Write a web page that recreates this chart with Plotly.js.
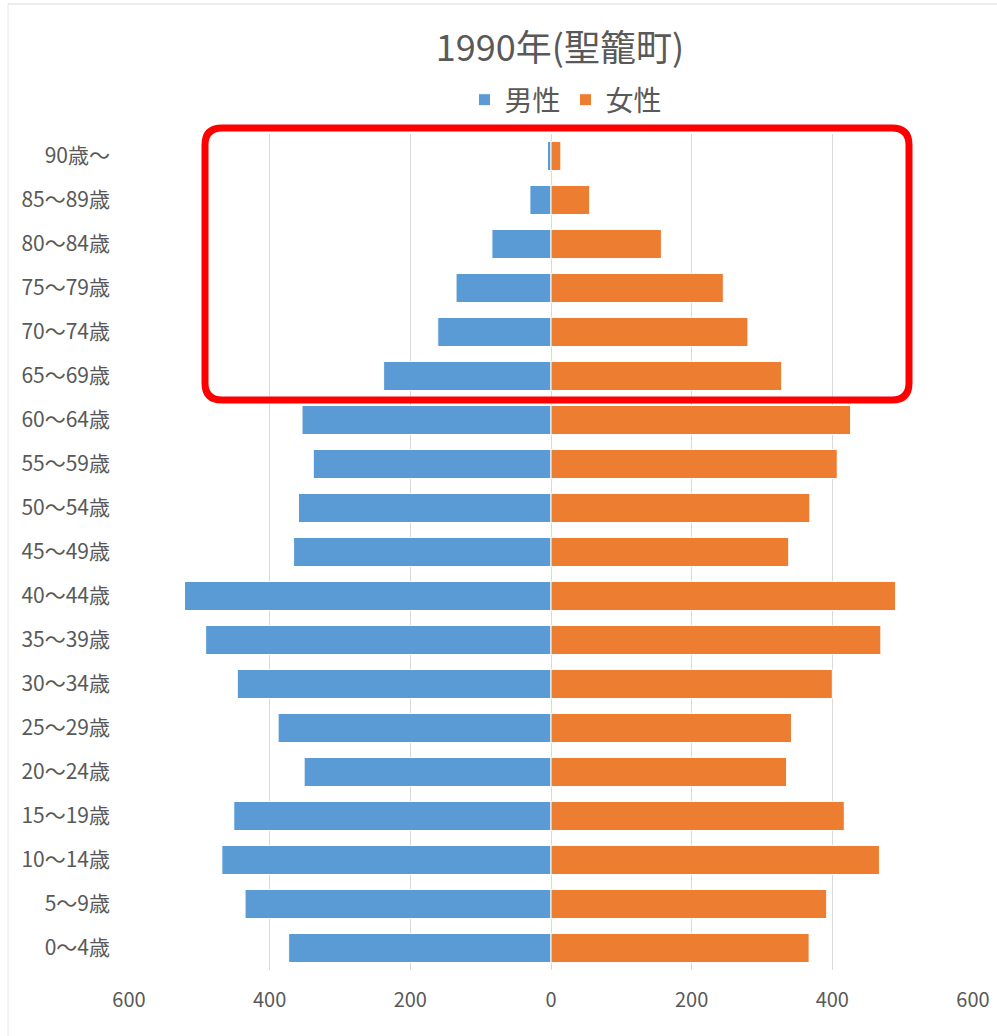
<!DOCTYPE html>
<html>
<head>
<meta charset="utf-8">
<script src="https://cdn.plot.ly/plotly-3.0.1.min.js"></script>
<style>
  html, body { margin: 0; padding: 0; background: #ffffff; }
  #chart { width: 997px; height: 1036px; }
</style>
</head>
<body>
<div id="chart"></div>
<script>
// Age groups (bottom to top)
const ageGroups = [
  "0〜4歳", "5〜9歳", "10〜14歳", "15〜19歳", "20〜24歳", "25〜29歳",
  "30〜34歳", "35〜39歳", "40〜44歳", "45〜49歳", "50〜54歳", "55〜59歳",
  "60〜64歳", "65〜69歳", "70〜74歳", "75〜79歳", "80〜84歳", "85〜89歳", "90歳〜"
];
// Male population (positive counts)
const maleValues = [373, 435, 468, 451, 351, 388, 446, 491, 521, 366, 359, 338, 354, 238, 161, 135, 84, 30, 5];
// Female population
const femaleValues = [367, 392, 467, 417, 335, 342, 400, 469, 490, 338, 368, 407, 426, 328, 280, 245, 157, 55, 14];

const seriesNames = ["男性", "女性"];
const tickValues = [-600, -400, -200, 0, 200, 400, 600];
const tickLabels = ["600", "400", "200", "0", "200", "400", "600"];
const chartTitle = "1990年(聖籠町)";

const W = 997, H = 1036;
const M = { l: 129, r: 24, t: 134, b: 66 };
const PW = W - M.l - M.r, PH = H - M.t - M.b;
const px2x = p => (p - M.l) / PW;
const py2y = p => (H - M.b - p) / PH;

function roundedRectPath(x0, y0, x1, y1, r) {
  const P = (x, y) => px2x(x).toFixed(5) + "," + py2y(y).toFixed(5);
  return "M" + P(x0 + r, y0) +
    " L" + P(x1 - r, y0) + " Q" + P(x1, y0) + " " + P(x1, y0 + r) +
    " L" + P(x1, y1 - r) + " Q" + P(x1, y1) + " " + P(x1 - r, y1) +
    " L" + P(x0 + r, y1) + " Q" + P(x0, y1) + " " + P(x0, y1 - r) +
    " L" + P(x0, y0 + r) + " Q" + P(x0, y0) + " " + P(x0 + r, y0) + " Z";
}

const font = "'Noto Sans CJK JP', 'Noto Sans', sans-serif";
const grey = "#595959";

const traces = [
  {
    type: "bar", orientation: "h", name: seriesNames[0],
    y: ageGroups, x: maleValues.map(v => -v),
    marker: { color: "#5B9BD5", line: { color: "#ffffff", width: 1 } },
    hoverinfo: "skip"
  },
  {
    type: "bar", orientation: "h", name: seriesNames[1],
    y: ageGroups, x: femaleValues,
    marker: { color: "#ED7D31", line: { color: "#ffffff", width: 1 } },
    hoverinfo: "skip"
  }
];

const layout = {
  width: W, height: H,
  margin: M,
  paper_bgcolor: "#ffffff",
  plot_bgcolor: "#ffffff",
  barmode: "overlay",
  bargap: 0.34,
  font: { family: font, color: grey },
  title: {
    text: chartTitle,
    font: { family: font, size: 36, color: grey },
    x: px2x(560), xref: "paper", xanchor: "center",
    y: 1 - 48 / H, yref: "container", yanchor: "middle"
  },
  showlegend: true,
  legend: {
    orientation: "h",
    x: px2x(566), xanchor: "center",
    y: py2y(100), yanchor: "middle",
    bgcolor: "rgba(0,0,0,0)",
    font: { family: font, size: 28, color: grey },
    itemwidth: 30,
    traceorder: "normal"
  },
  xaxis: {
    range: [-600, 600],
    tickvals: tickValues, ticktext: tickLabels,
    showgrid: true, gridcolor: "#D9D9D9", gridwidth: 1,
    zeroline: true, zerolinecolor: "#D9D9D9", zerolinewidth: 1,
    showline: false, ticks: "",
    ticklabelstandoff: 16,
    tickfont: { family: font, size: 20, color: grey },
    fixedrange: true
  },
  yaxis: {
    type: "category",
    showgrid: false, zeroline: false, showline: false, ticks: "",
    ticklabelstandoff: 18,
    tickfont: { family: font, size: 21, color: grey },
    fixedrange: true
  },
  shapes: [
    {
      type: "path", xref: "paper", yref: "paper",
      path: roundedRectPath(205, 128, 909, 400, 17),
      line: { color: "#FF0000", width: 7 },
      fillcolor: "rgba(0,0,0,0)"
    },
    {
      type: "line", xref: "paper", yref: "paper",
      x0: px2x(8), x1: px2x(997), y0: py2y(4), y1: py2y(4),
      line: { color: "#D9D9D9", width: 1 }
    },
    {
      type: "line", xref: "paper", yref: "paper",
      x0: px2x(8), x1: px2x(8), y0: py2y(4), y1: py2y(1036),
      line: { color: "#E6E6E6", width: 1 }
    }
  ]
};

Plotly.newPlot("chart", traces, layout, { displayModeBar: false, staticPlot: true });
</script>
</body>
</html>
